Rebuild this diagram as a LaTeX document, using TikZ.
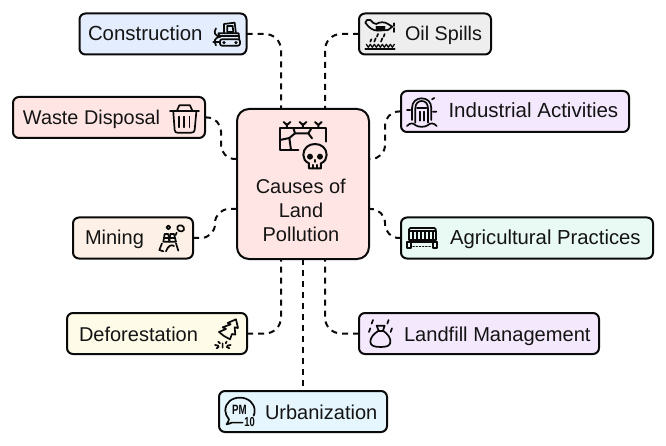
\documentclass[tikz,border=0pt]{standalone}
\usepackage{fontspec}
\setmainfont{Liberation Sans}
\usetikzlibrary{calc}
\definecolor{inkc}{HTML}{0A0A0A}
\definecolor{txtc}{HTML}{141414}
\tikzset{
  box/.style={draw=inkc,line width=2pt,rounded corners=6pt,inner sep=0pt,outer sep=0pt,anchor=north west,minimum height=41pt},
  label/.style={anchor=base west,inner sep=0pt,outer sep=0pt,text=txtc,font=\fontsize{20}{24}\selectfont},
  sz/.style={font=\fontsize{#1}{24}\selectfont},
  conn/.style={draw=inkc,line width=2pt,dash pattern=on 6pt off 5pt,rounded corners=16pt},
  sconn/.style={draw=inkc,line width=2pt,dash pattern=on 6pt off 5pt,rounded corners=14pt},
  ic/.style={draw=inkc,line width=1.7pt,line cap=round,line join=round},
  zoomed/.style={x=0.3333pt,y=-0.3333pt},
}
\begin{document}
\begin{tikzpicture}[x=1pt,y=-1pt]
\useasboundingbox (0,0) rectangle (666,446);
\fill[white] (0,0) rectangle (666,446);
% boxes
\node[box,fill={rgb,255:red,255;green,230;blue,228},rounded corners=12pt,minimum width=132pt,minimum height=150pt] (hub) at (237,109) {};
\node[box,fill={rgb,255:red,228;green,237;blue,253},minimum width=167pt] (constr) at (79.5,13.5) {};
\node[box,fill={rgb,255:red,255;green,230;blue,228},minimum width=192pt] (waste) at (13,97) {};
\node[box,fill={rgb,255:red,253;green,240;blue,230},minimum width=120pt] (mining) at (73,217.5) {};
\node[box,fill={rgb,255:red,254;green,251;blue,232},minimum width=180pt] (defor) at (67,313) {};
\node[box,fill={rgb,255:red,229;green,246;blue,254},minimum width=168pt] (urban) at (219,391) {};
\node[box,fill={rgb,255:red,238;green,238;blue,238},minimum width=132pt] (oil) at (359,13.5) {};
\node[box,fill={rgb,255:red,244;green,232;blue,254},minimum width=228pt] (indus) at (401,91) {};
\node[box,fill={rgb,255:red,232;green,250;blue,243},minimum width=252pt] (agri) at (401,217.5) {};
\node[box,fill={rgb,255:red,244;green,232;blue,253},minimum width=240pt] (landf) at (359,313) {};
% labels
\node[label,sz=20.4] (tconstr) at (88,41) {Construction};
\node[label,sz=19.85] (twaste) at (23,125) {Waste Disposal};
\node[label] (tmining) at (85,245) {Mining};
\node[label] (tdefor) at (79,341) {Deforestation};
\node[label] (turban) at (265,419) {Urbanization};
\node[label,sz=19.8] (toil) at (405,41) {Oil Spills};
\node[label,sz=20.5] (tindus) at (448.5,118) {Industrial Activities};
\node[label,sz=20.3] (tagri) at (450,245) {Agricultural Practices};
\node[label,sz=20.1] (tlandf) at (404,341) {Landfill Management};
\node[label,anchor=base] (hub1) at (300.8,193.5) {Causes of};
\node[label,anchor=base] (hub2) at (301,217.5) {Land};
\node[label,anchor=base] (hub3) at (301,241.5) {Pollution};
% connector ends on hub
\coordinate (hn1) at ([xshift=-22pt]hub.north);
\coordinate (hn2) at ([xshift=22pt]hub.north);
\coordinate (hs1) at ([xshift=-22pt]hub.south);
\coordinate (hs2) at ([xshift=22pt]hub.south);
\coordinate (hw1) at ([yshift=25pt]hub.west);
\coordinate (hw2) at ([yshift=-25pt]hub.west);
\coordinate (he1) at ([yshift=25pt]hub.east);
\coordinate (he2) at ([yshift=-25pt]hub.east);
\draw[conn] (constr.east) -| (hn1);
\draw[conn] (oil.west) -| (hn2);
\draw[conn] (defor.east) -| (hs1);
\draw[conn] (landf.west) -| (hs2);
\draw[conn] (hub.south) -- (urban.north);
\draw[sconn] (waste.east) -| ([xshift=-16pt]hw1) -- (hw1);
\draw[sconn] (mining.east) -| ([xshift=-22pt]hw2) -- (hw2);
\draw[sconn] (indus.west) -| ([xshift=16pt]he1) -- (he1);
\draw[sconn] (agri.west) -| ([xshift=16pt]he2) -- (he2);
% hub icon
\begin{scope}[shift={(220,100)},zoomed,ic/.append style={line width=2pt}]
\draw[ic] (235,150)--(180,150)--(180,84)--(318,84)--(318,125);
\draw[ic] (180,120)--(208,114)--(225,100)--(220,84);
\draw[ic] (208,114)--(213,150);
\draw[ic] (225,100)--(265,100)--(275,84);
\draw[ic] (265,100)--(276,115);
\foreach \q in {201,249,295}{\draw[ic] (\q,84)--(\q,75)--(\q-10,66) (\q,75)--(\q+10,66);}
\draw[ic,fill={rgb,255:red,255;green,230;blue,228}] (267,205)--(267,190) .. controls (255,185) and (250,175) .. (250,165) .. controls (250,145) and (265,132) .. (285,132) .. controls (305,132) and (320,145) .. (320,165) .. controls (320,175) and (315,185) .. (303,190)--(303,205)--cycle;
\fill[inkc] (270,170) circle (3pt) (300,170) circle (3pt);
\draw[ic] (285,180)--(285,186) (278,195)--(278,205) (292,195)--(292,205);
\end{scope}
% construction icon
\begin{scope}[zoomed]
\draw[ic] (672,100)--(672,72)--(704,68)--(708,100);
\draw[ic] (682,78)--(698,78)--(700,96)--(682,96)--cycle;
\draw[ic] (660,112)--(655,100)--(716,100)--(718,118);
\draw[ic] (660,108)--(716,108);
\draw[ic,rounded corners=2pt] (660,118) rectangle (720,137);
\fill[inkc] (672,128) circle (1.8pt) (708,128) circle (1.8pt);
\draw[ic] (648,85) .. controls (640,100) and (645,105) .. (658,110) .. controls (645,115) and (640,122) .. (648,136);
\draw[ic] (658,125)--(640,125);
\end{scope}
% trash icon
\begin{scope}[zoomed]
\draw[ic] (510,334)--(597,334);
\draw[ic] (530,334)--(538,316)--(570,316)--(578,334);
\draw[ic] (520,336)--(524,390) .. controls (525,396) and (528,398) .. (532,398)--(574,398) .. controls (580,398) and (583,396) .. (584,390)--(589,336);
\draw[ic] (537,350)--(537,382) (553,350)--(553,382) (569,350)--(569,382);
\end{scope}
% mining icon
\begin{scope}[shift={(0,200)},zoomed]
\draw[ic] (505,82) circle (1.9pt);
\draw[ic,rotate around={-25:(542,85)}] (542,85) ellipse (3.6pt and 3pt);
\draw[ic] (530,98)--(527,105);
\draw[ic] (490,125)--(494,102)--(505,102)--(508,125)--cycle;
\draw[ic] (508,125)--(511,102)--(522,102)--(528,125)--cycle;
\draw[ic] (494,113)--(505,113) (512,113)--(524,113);
\draw[ic] (486,130)--(478,150)--(490,154);
\draw[ic] (528,130)--(535,152);
\draw[ic] (498,154) .. controls (503,138) and (515,132) .. (522,138);
\end{scope}
% deforestation icon
\begin{scope}[shift={(0,200)},zoomed]
\draw[ic] (708,358)--(683,369)--(692,373)--(668,382)--(678,387)--(657,396)--(672,408)--(690,418)--(696,402)--(706,404)--(704,382)--(714,384)--cycle;
\draw[ic] (668,430)--(668,443) (655,425)--(660,430) (645,435)--(655,437) (650,445)--(656,441) (680,425)--(677,430) (692,435)--(682,437) (688,445)--(680,441);
\end{scope}
% PM10 icon
\begin{scope}[shift={(0,200)},zoomed]
\draw[ic] (728,668)--(695,668) .. controls (692,668) and (685,674) .. (680,673) .. controls (684,668) and (686,662) .. (687,658) .. controls (680,650) and (676,640) .. (676,632) .. controls (676,608) and (695,593) .. (720,593) .. controls (745,593) and (764,610) .. (764,632) .. controls (764,638) and (763,643) .. (761,647);
\node[inner sep=0pt,font=\bfseries\fontsize{13.5}{14}\selectfont,xscale=.72,text=inkc] (pmt) at (718,630) {PM};
\node[inner sep=0pt,font=\bfseries\fontsize{13}{14}\selectfont,xscale=.72,text=inkc] (pmn) at (749,665) {10};
\end{scope}
% oil spill icon
\begin{scope}[shift={(333,0)},zoomed]
\draw[ic] (97,68) .. controls (97,60) and (105,58) .. (112,60) .. controls (118,68) and (124,72) .. (130,72) .. controls (140,65) and (155,65) .. (165,72)--(178,80)--(165,90)--(135,92) .. controls (120,92) and (108,84) .. (97,68)--cycle;
\draw[ic] (130,80)--(155,80) (130,86)--(155,86);
\draw[ic] (184,70)--(184,78) (184,84)--(184,96);
\draw[ic] (155,102)--(152,110) (135,102)--(132,110) (128,115)--(124,125) (148,115)--(144,125) (112,125)--(115,118);
\draw[ic] (97,147)--(185,147);
\draw[ic,line width=1.2pt] (100,133)--(106,142)--(112,133)--(118,142)--(124,133)--(130,142)--(136,133)--(142,142)--(148,133)--(154,142)--(160,133)--(166,142)--(172,133)--(178,142)--(184,133);
\end{scope}
% industrial icon
\begin{scope}[shift={(333,0)},zoomed]
\draw[ic] (247,368)--(247,325) .. controls (247,310) and (256,303) .. (266,303) .. controls (276,303) and (285,310) .. (285,325)--(285,368);
\draw[ic] (237,360)--(237,325) .. controls (237,305) and (250,295) .. (266,295) .. controls (282,295) and (295,305) .. (295,325)--(295,360);
\draw[ic] (252,325)--(280,325);
\draw[ic] (260,335)--(260,362) (272,335)--(272,362);
\draw[ic] (222,378) .. controls (232,368) and (240,368) .. (248,376) .. controls (256,382) and (276,382) .. (284,376) .. controls (292,368) and (302,368) .. (311,378);
\draw[ic] (297,298)--(304,294) (222,330)--(232,330) (300,335)--(310,335);
\end{scope}
% agricultural icon
\begin{scope}[shift={(333,200)},zoomed]
\draw[ic] (228,95)--(228,88) .. controls (228,85) and (230,84) .. (232,84)--(304,84) .. controls (306,84) and (308,85) .. (308,88)--(308,95);
\draw[ic] (228,94)--(308,94);
\foreach \q in {240,252,264,276,288,300}{\draw[ic,line width=1.3pt] (\q,95)--(\q,117);}
\draw[ic] (228,95)--(228,120)--(308,120)--(308,95);
\draw[ic] (225,127)--(312,127);
\draw[ic] (223,127) rectangle (235,145);
\draw[ic] (300,127) rectangle (312,145);
\draw[ic,line width=1.2pt,dotted] (240,140)--(296,140);
\end{scope}
% landfill icon
\begin{scope}[shift={(333,200)},zoomed]
\draw[ic] (131,377)--(155,377)--(150,392) .. controls (165,402) and (174,415) .. (172,428) .. controls (170,438) and (160,441) .. (143,441) .. controls (125,441) and (113,438) .. (112,426) .. controls (112,412) and (122,402) .. (137,392)--cycle;
\draw[ic] (137,392)--(150,392);
\draw[ic] (112,385) .. controls (108,388) and (112,392) .. (108,396);
\draw[ic] (177,385) .. controls (173,388) and (177,392) .. (173,396);
\draw[ic] (120,360) .. controls (116,363) and (120,367) .. (116,371);
\draw[ic] (167,360) .. controls (163,363) and (167,367) .. (163,371);
\end{scope}
\end{tikzpicture}
\end{document}
